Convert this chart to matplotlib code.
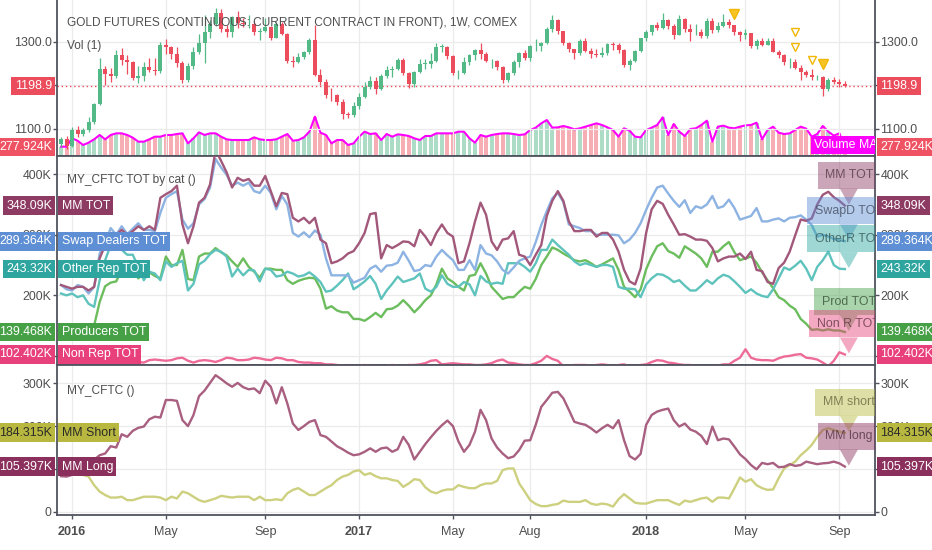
import numpy as np
import matplotlib
matplotlib.use("Agg")
import matplotlib.pyplot as plt
from matplotlib import font_manager as fm
from matplotlib.transforms import IdentityTransform
from matplotlib.patches import Rectangle, Polygon

# ---------------- data (weekly bars, first bar = week of 2015-12-21) ----------------
tick_weeks = [2, 19, 37, 54, 71, 85, 106, 124, 141]
tick_labels = ["2016", "May", "Sep", "2017", "May", "Aug", "2018", "May", "Sep"]

opens = [1066, 1076, 1060, 1098, 1089, 1097, 1116, 1157, 1239, 1227,
         1221, 1270, 1259, 1255, 1217, 1221, 1243, 1235, 1233, 1292,
         1289, 1273, 1252, 1213, 1244, 1276, 1297, 1322, 1341, 1366,
         1330, 1323, 1358, 1344, 1341, 1342, 1322, 1326, 1334, 1310,
         1341, 1318, 1257, 1254, 1266, 1276, 1304, 1224, 1208, 1178,
         1177, 1162, 1135, 1133, 1152, 1173, 1197, 1210, 1191, 1221,
         1235, 1239, 1258, 1228, 1204, 1230, 1250, 1250, 1257, 1289,
         1289, 1268, 1228, 1229, 1254, 1269, 1282, 1272, 1256, 1257,
         1242, 1212, 1228, 1255, 1274, 1264, 1291, 1291, 1297, 1330,
         1351, 1325, 1297, 1284, 1274, 1303, 1280, 1273, 1270, 1275,
         1296, 1292, 1281, 1248, 1257, 1279, 1309, 1322, 1338, 1333,
         1350, 1337, 1316, 1353, 1330, 1323, 1324, 1313, 1349, 1327,
         1336, 1347, 1338, 1323, 1315, 1320, 1291, 1303, 1294, 1302,
         1278, 1270, 1254, 1255, 1241, 1231, 1223, 1219, 1219, 1192,
         1213, 1208, 1204]
closes = [1076, 1060, 1098, 1089, 1097, 1116, 1157, 1239, 1227, 1221,
          1270, 1259, 1255, 1217, 1221, 1243, 1235, 1233, 1292, 1289,
          1273, 1252, 1213, 1244, 1276, 1297, 1322, 1341, 1366, 1330,
          1323, 1358, 1344, 1341, 1342, 1322, 1326, 1334, 1310, 1341,
          1318, 1257, 1254, 1266, 1276, 1304, 1224, 1208, 1178, 1177,
          1162, 1135, 1133, 1152, 1173, 1197, 1210, 1191, 1221, 1235,
          1239, 1258, 1228, 1204, 1230, 1250, 1250, 1257, 1289, 1289,
          1268, 1228, 1229, 1254, 1269, 1282, 1272, 1256, 1257, 1242,
          1212, 1228, 1255, 1274, 1264, 1291, 1291, 1297, 1330, 1351,
          1325, 1297, 1284, 1274, 1303, 1280, 1273, 1270, 1275, 1296,
          1292, 1281, 1248, 1257, 1279, 1309, 1322, 1338, 1333, 1350,
          1337, 1316, 1353, 1330, 1323, 1324, 1313, 1349, 1327, 1336,
          1347, 1338, 1323, 1315, 1320, 1291, 1303, 1294, 1302, 1278,
          1270, 1254, 1255, 1241, 1231, 1223, 1219, 1219, 1192, 1213,
          1208, 1204, 1198.9]
highs = [1082, 1085, 1104, 1106, 1103, 1128, 1160, 1263, 1244, 1241,
         1281, 1287, 1270, 1257, 1245, 1254, 1263, 1264, 1299, 1306,
         1290, 1288, 1256, 1251, 1289, 1318, 1362, 1350, 1377, 1375,
         1339, 1360, 1371, 1356, 1361, 1349, 1332, 1355, 1336, 1345,
         1345, 1320, 1268, 1275, 1280, 1309, 1338, 1237, 1215, 1194,
         1180, 1170, 1139, 1163, 1183, 1207, 1221, 1220, 1226, 1244,
         1245, 1264, 1263, 1231, 1233, 1261, 1262, 1274, 1297, 1296,
         1290, 1270, 1236, 1265, 1273, 1284, 1298, 1278, 1262, 1258,
         1244, 1232, 1259, 1276, 1282, 1293, 1306, 1300, 1334, 1362,
         1352, 1326, 1300, 1285, 1306, 1308, 1286, 1284, 1288, 1298,
         1299, 1298, 1283, 1261, 1281, 1310, 1327, 1340, 1345, 1366,
         1352, 1341, 1362, 1355, 1341, 1341, 1330, 1356, 1355, 1345,
         1365, 1353, 1340, 1325, 1330, 1320, 1307, 1309, 1308, 1310,
         1282, 1272, 1264, 1262, 1246, 1236, 1237, 1225, 1222, 1218,
         1219, 1215, 1210]
lows = [1058, 1055, 1058, 1082, 1084, 1094, 1112, 1155, 1201, 1209,
        1218, 1246, 1227, 1212, 1206, 1210, 1230, 1224, 1228, 1272,
        1261, 1243, 1206, 1207, 1238, 1272, 1252, 1310, 1337, 1322,
        1311, 1312, 1333, 1335, 1333, 1316, 1305, 1323, 1305, 1310,
        1316, 1251, 1242, 1252, 1261, 1273, 1222, 1200, 1171, 1164,
        1156, 1123, 1125, 1128, 1146, 1171, 1193, 1180, 1189, 1218,
        1220, 1235, 1225, 1195, 1196, 1228, 1238, 1240, 1253, 1276,
        1262, 1224, 1214, 1227, 1248, 1258, 1262, 1253, 1240, 1236,
        1205, 1208, 1224, 1243, 1259, 1256, 1279, 1280, 1295, 1324,
        1318, 1293, 1278, 1260, 1270, 1276, 1263, 1266, 1266, 1271,
        1282, 1274, 1243, 1236, 1255, 1278, 1303, 1315, 1327, 1330,
        1330, 1307, 1316, 1323, 1303, 1317, 1308, 1309, 1321, 1324,
        1334, 1333, 1316, 1303, 1306, 1286, 1285, 1290, 1292, 1276,
        1264, 1248, 1241, 1238, 1212, 1220, 1212, 1212, 1175, 1188,
        1203, 1197, 1196]
volume_k = [288, 288, 546, 473, 340, 412, 515, 649, 515, 649,
            700, 700, 649, 566, 443, 443, 515, 597, 597, 649,
            649, 679, 700, 391, 546, 731, 649, 700, 700, 597,
            515, 494, 494, 494, 494, 576, 515, 494, 494, 515,
            597, 679, 473, 494, 576, 752, 1215, 721, 649, 391,
            494, 494, 340, 391, 597, 752, 679, 700, 494, 679,
            597, 669, 649, 618, 546, 494, 618, 618, 700, 700,
            700, 700, 752, 752, 546, 412, 649, 597, 649, 679,
            700, 700, 679, 649, 669, 803, 875, 1009, 1112, 875,
            885, 927, 885, 824, 855, 906, 958, 1009, 958, 885,
            803, 597, 855, 782, 597, 576, 803, 875, 958, 1194,
            649, 988, 752, 618, 834, 855, 958, 1091, 443, 906,
            937, 875, 855, 906, 947, 958, 1030, 515, 803, 906,
            721, 679, 700, 803, 906, 844, 597, 679, 927, 752,
            628, 700, 277.924]
signal_weeks = [122, 133, 133, 136, 138]
signal_prices = [1364, 1322, 1289, 1259, 1249]
signal_filled = [True, False, False, False, True]

mm_tot = [217, 214, 211, 214, 214, 208, 214, 261, 283, 303,
          300, 308, 300, 306, 314, 308, 314, 308, 361, 367,
          372, 381, 317, 286, 314, 353, 361, 383, 440, 422,
          403, 378, 394, 389, 392, 381, 381, 397, 372, 347,
          369, 367, 328, 322, 328, 319, 328, 292, 286, 253,
          256, 261, 269, 273, 286, 303, 334, 336, 261, 283,
          278, 283, 289, 288, 281, 308, 297, 283, 303, 317,
          303, 297, 253, 256, 286, 322, 353, 333, 289, 275,
          292, 294, 306, 267, 264, 250, 267, 283, 331, 356,
          372, 356, 322, 306, 306, 308, 308, 297, 303, 303,
          292, 272, 242, 223, 218, 244, 303, 342, 356, 351,
          333, 317, 300, 301, 297, 292, 292, 290, 278, 256,
          261, 264, 264, 269, 260, 272, 242, 240, 222, 219,
          245, 254, 272, 299, 325, 323, 327, 350, 366, 371,
          362, 356, 348.09]
swap_tot = [217, 210, 208, 217, 214, 203, 214, 269, 286, 311,
            300, 314, 301, 310, 319, 308, 308, 306, 336, 361,
            367, 372, 325, 310, 319, 350, 359, 378, 425, 411,
            399, 381, 386, 381, 386, 372, 369, 381, 369, 342,
            364, 350, 303, 297, 304, 296, 307, 300, 261, 233,
            233, 233, 233, 221, 225, 229, 244, 249, 239, 249,
            250, 254, 272, 257, 240, 242, 250, 248, 264, 275,
            266, 258, 242, 242, 258, 242, 283, 269, 266, 256,
            242, 236, 246, 257, 261, 264, 288, 316, 339, 360,
            369, 354, 317, 314, 311, 306, 306, 300, 300, 300,
            300, 299, 286, 292, 303, 319, 341, 361, 378, 381,
            368, 356, 346, 357, 336, 347, 344, 350, 364, 344,
            347, 358, 344, 325, 328, 331, 344, 322, 322, 325,
            327, 322, 328, 329, 332, 325, 316, 297, 300, 297,
            293, 291, 289.364]
other_tot = [203, 200, 203, 197, 200, 186, 181, 225, 258, 283,
             283, 275, 267, 267, 247, 225, 239, 236, 225, 256,
             247, 253, 257, 208, 219, 251, 257, 268, 275, 272,
             264, 231, 244, 233, 242, 241, 223, 244, 242, 231,
             233, 239, 236, 231, 233, 238, 231, 222, 206, 208,
             216, 225, 236, 210, 216, 223, 232, 219, 194, 208,
             219, 231, 222, 225, 228, 236, 211, 206, 214, 233,
             219, 214, 214, 222, 218, 200, 232, 223, 219, 221,
             219, 253, 253, 253, 247, 239, 253, 275, 275, 292,
             283, 275, 267, 256, 250, 253, 250, 247, 250, 250,
             247, 214, 211, 211, 210, 197, 218, 228, 235, 234,
             229, 222, 225, 216, 208, 208, 216, 225, 219, 228,
             234, 231, 223, 214, 204, 210, 203, 199, 197, 210,
             228, 246, 242, 249, 257, 244, 225, 247, 258, 272,
             250, 244, 243.32]
prod_tot = [145, 143, 140, 142, 145, 148, 150, 189, 215, 221,
            223, 242, 247, 247, 228, 236, 238, 232, 228, 264,
            250, 250, 275, 227, 225, 264, 269, 269, 278, 271,
            266, 256, 247, 261, 247, 239, 229, 244, 244, 242,
            242, 225, 219, 224, 227, 229, 228, 211, 178, 182,
            175, 172, 172, 161, 161, 158, 164, 171, 164, 177,
            178, 183, 192, 183, 172, 181, 192, 200, 218, 244,
            228, 222, 214, 208, 232, 234, 253, 236, 214, 204,
            194, 197, 197, 206, 214, 211, 227, 250, 264, 279,
            275, 269, 264, 258, 256, 258, 253, 247, 251, 256,
            261, 242, 214, 206, 197, 210, 243, 264, 281, 286,
            273, 269, 262, 281, 275, 269, 261, 247, 272, 272,
            281, 288, 271, 258, 261, 264, 254, 238, 225, 212,
            197, 192, 183, 177, 161, 153, 143, 144, 142, 144,
            142, 142, 139.468]
nonrep_tot = [95, 96, 94, 95, 96, 94, 95, 97, 96, 95,
              94, 96, 95, 92, 90, 89, 93, 94, 93, 92,
              93, 96, 97, 92, 89, 92, 93, 92, 90, 93,
              97, 96, 93, 93, 94, 97, 96, 94, 93, 97,
              96, 93, 93, 90, 89, 89, 88, 88, 86, 86,
              85, 84, 84, 83, 84, 85, 84, 83, 83, 84,
              85, 84, 84, 85, 85, 86, 88, 92, 93, 86,
              87, 88, 87, 86, 86, 85, 85, 86, 88, 92,
              94, 89, 88, 86, 85, 85, 88, 92, 100, 95,
              92, 83, 84, 85, 85, 85, 84, 85, 86, 85,
              83, 85, 86, 83, 82, 85, 86, 90, 93, 92,
              89, 88, 86, 85, 85, 84, 83, 83, 83, 84,
              86, 86, 92, 97, 111, 97, 94, 93, 93, 92,
              96, 99, 100, 102, 103, 97, 96, 94, 89, 83,
              92, 106, 102.402]
mm_long = [83, 82, 86, 90, 94, 107, 121, 132, 136, 153,
           150, 181, 175, 189, 196, 199, 216, 222, 220, 261,
           261, 259, 214, 200, 226, 270, 283, 301, 319, 310,
           300, 292, 301, 291, 286, 288, 277, 306, 292, 253,
           291, 253, 206, 191, 200, 210, 214, 179, 175, 164,
           153, 146, 138, 132, 134, 140, 148, 140, 148, 150,
           140, 146, 175, 156, 122, 140, 158, 174, 189, 202,
           213, 200, 164, 140, 156, 187, 238, 214, 171, 150,
           136, 125, 129, 144, 166, 167, 203, 245, 261, 278,
           280, 265, 238, 210, 206, 203, 195, 185, 195, 203,
           195, 214, 167, 130, 122, 135, 203, 226, 234, 238,
           241, 214, 199, 206, 192, 187, 177, 158, 199, 167,
           171, 169, 152, 134, 123, 109, 99, 114, 111, 114,
           104, 105, 111, 107, 109, 117, 114, 111, 113, 114,
           117, 113, 105.397]
mm_short = [97, 94, 91, 88, 86, 82, 62, 47, 39, 33,
            33, 35, 27, 27, 31, 35, 35, 35, 33, 27,
            35, 31, 47, 43, 35, 27, 23, 27, 31, 37,
            35, 33, 35, 35, 35, 27, 35, 27, 27, 29,
            27, 43, 51, 55, 47, 39, 39, 47, 55, 62,
            74, 82, 86, 94, 97, 86, 90, 83, 78, 78,
            74, 72, 58, 66, 76, 74, 57, 47, 43, 49,
            52, 52, 62, 58, 55, 55, 62, 66, 66, 72,
            97, 101, 101, 66, 47, 27, 18, 13, 13, 16,
            18, 26, 23, 23, 23, 27, 19, 16, 19, 17,
            12, 29, 41, 31, 21, 19, 19, 23, 27, 27,
            27, 21, 16, 26, 23, 27, 31, 33, 23, 33,
            33, 31, 55, 80, 70, 76, 62, 55, 51, 52,
            78, 101, 109, 117, 132, 143, 156, 175, 191, 195,
            191, 187, 184.315]

# ---------------- fonts ----------------
_names = {f.name for f in fm.fontManager.ttflist}
if "Liberation Sans Narrow" in _names:
    FAM, S = "Liberation Sans Narrow", 1.0
else:
    FAM, S = "Liberation Sans", 0.84
plt.rcParams["font.family"] = [FAM, "DejaVu Sans"]

W, H = 932, 550
L, R = 57, 875
fig = plt.figure(figsize=(W / 100, H / 100), dpi=100)
fig.patch.set_facecolor("white")


def rect(y0, y1):
    return [L / W, 1 - y1 / H, (R - L) / W, (y1 - y0) / H]


axv = fig.add_axes(rect(0, 156))
ax1 = fig.add_axes(rect(0, 156))
ax2 = fig.add_axes(rect(156, 365))
ax3 = fig.add_axes(rect(365, 515))
ax1.patch.set_visible(False)

n = len(closes)
x = np.arange(n)
XL = (-0.725, 147.46)
SPC = "#50535e"
TXT = "#4f4f4f"
GRID = "#ebebeb"
FS = 10.6 * S
PAD = "square,pad=0.27"

# ---------------- top panel ----------------
o = np.array(opens, float)
c = np.array(closes, float)
up = c >= o
GREEN, RED = "#53b987", "#eb4d5c"
ccol = np.where(up, GREEN, RED)
body = c - o
body = np.where(np.abs(body) < 0.9, 0.9, body)
ax1.vlines(x, lows, highs, colors=ccol, lw=0.9, zorder=3)
ax1.bar(x, body, bottom=o, width=0.72, color=ccol, linewidth=0, zorder=4)
ax1.axhline(closes[-1], color=RED, lw=1, ls=(0, (1, 2)), zorder=2)
for w, p, f in zip(signal_weeks, signal_prices, signal_filled):
    ax1.plot(w, p, marker="v", ms=7 if f else 5.5,
             mfc="#f7c325" if f else "white", mec="#f2b705", mew=1, zorder=6)
ax1.set_ylim(1037.9, 1396.5)
ax1.set_yticks([1100, 1200, 1300])
# the 1200.0 label sits under the last-price tag, as in the source
ax1.set_yticklabels(["1100.0", "", "1300.0"])

vcol = np.where(up, "#acdcc6", "#f6adb3")
axv.bar(x, volume_k, width=0.72, color=vcol, linewidth=0)
axv.plot(x, volume_k, color="#ff00ff", lw=1.5)
axv.set_ylim(0, 4820)
axv.set_xlim(*XL)
axv.set_xticks([]); axv.set_yticks([])
for s in axv.spines.values():
    s.set_visible(False)

# ---------------- middle panel ----------------
mid = [("Non Rep TOT", "Non R TOT", nonrep_tot, "#ee6a98", "#e8407a", "#e8407a", "#6a3d4c"),
       ("Producers TOT", "Prod TOT", prod_tot, "#6cbd5e", "#46a046", "#43a047", "#3f5a3e"),
       ("Other Rep TOT", "OtherR TOT", other_tot, "#5ec3bc", "#2fa59f", "#2aa7a0", "#3c5f5d"),
       ("Swap Dealers TOT", "SwapD TOT", swap_tot, "#8db3e2", "#5e8fd4", "#5b8dd6", "#4a5566"),
       ("MM TOT", "MM TOT", mm_tot, "#a2587a", "#8e3b63", "#8b3a62", "#5e4050")]
for name, short, vals, lc, bc, cc, tc in mid:
    ax2.plot(x, vals, color=lc, lw=1.7, zorder=3, solid_joinstyle="round")
ax2.set_ylim(85, 430)
ax2.set_yticks([100, 200, 300, 400])
ax2.set_yticklabels(["", "200K", "300K", "400K"])

# ---------------- bottom panel ----------------
bot = [("MM Long", "MM long", mm_long, "#a85f80", "#8b2f5c", "#8b2d5c", "#5a3a4a", "white"),
       ("MM Short", "MM short", mm_short, "#cdd07f", "#b8b840", "#b5b83a", "#6f6f45", "#2a2a2a")]
for name, short, vals, lc, bc, cc, tc, lt in bot[::-1]:
    ax3.plot(x, vals, color=lc, lw=1.7, zorder=3, solid_joinstyle="round")
ax3.set_ylim(-7.7, 342.8)
ax3.set_yticks([0, 100, 200, 300])
ax3.set_yticklabels(["0", "", "200K", "300K"])

# ---------------- axes styling ----------------
for ax in (ax1, ax2, ax3):
    ax.set_xlim(*XL)
    ax.set_xticks(tick_weeks)
    ax.grid(True, color=GRID, lw=0.9)
    ax.set_axisbelow(True)
    ax.tick_params(axis="y", left=True, right=True, labelleft=True, labelright=True,
                   length=3, width=1, color=SPC, labelcolor=TXT, labelsize=FS, pad=1)
    ax.tick_params(axis="x", bottom=False, labelbottom=False, top=False)
    for sp in ("left", "right", "bottom", "top"):
        ax.spines[sp].set_color(SPC)
        ax.spines[sp].set_linewidth(1.3)
ax1.spines["top"].set_visible(False)
ax3.tick_params(axis="x", bottom=True, labelbottom=True, length=3, width=1,
                color=SPC, labelcolor=TXT, labelsize=10.8 * S, pad=5)
ax3.set_xticklabels(tick_labels)
for lbl in ax3.get_xticklabels():
    if lbl.get_text().isdigit():
        lbl.set_fontweight("bold")

ID = IdentityTransform()


def disp(ax, i, v):
    return ax.transData.transform((i, v))


def side_labels(ax, v, txt, name, color, tcolor="white"):
    yd = disp(ax, 0, v)[1]
    bb = dict(boxstyle=PAD, fc=color, ec="none")
    fig.text(52, yd, txt, transform=ID, ha="right", va="center", fontsize=FS,
             color=tcolor, bbox=bb, zorder=20)
    fig.text(880.5, yd, txt, transform=ID, ha="left", va="center", fontsize=FS,
             color=tcolor, bbox=bb, zorder=20)
    if name:
        fig.text(61.5, yd, name, transform=ID, ha="left", va="center", fontsize=FS,
                 color=tcolor, bbox=bb, zorder=20)


def callout(ax, v, text, color, tcolor, halfw):
    tx, ty = disp(ax, n - 1, v)
    cx = tx + 4
    b0, b1 = ty + 17, ty + 44
    ax.add_artist(Rectangle((cx - halfw, b0), 2 * halfw, b1 - b0, transform=ID,
                            fc=color, alpha=0.45, ec="none", zorder=8))
    ax.add_artist(Polygon([(cx - 9, b0), (cx + 9, b0), (cx, ty + 1)], closed=True,
                          transform=ID, fc=color, alpha=0.45, ec="none", zorder=8))
    ax.text(cx, (b0 + b1) / 2, text, transform=ID, ha="center", va="center",
            fontsize=FS, color=tcolor, alpha=0.85, zorder=9, clip_on=True)


# price + volume labels
side_labels(ax1, closes[-1], "1198.9", None, RED)
side_labels(axv, volume_k[-1], "277.924K", None, "#ef5262")
ax1.text(814, disp(axv, 0, volume_k[-1])[1] + 2, "Volume MA", transform=ID, ha="left",
         va="center", fontsize=FS, color="white", zorder=9, clip_on=True,
         bbox=dict(boxstyle=PAD, fc="#ff00ff", ec="none"))

halfw_mid = {"MM TOT": 31, "SwapD TOT": 42, "OtherR TOT": 42, "Prod TOT": 35, "Non R TOT": 40}
for name, short, vals, lc, bc, cc, tc in mid[::-1]:
    callout(ax2, vals[-1], short, cc, tc, halfw_mid[short])
for name, short, vals, lc, bc, cc, tc in mid:
    side_labels(ax2, vals[-1], f"{vals[-1]:g}K", name, bc)

halfw_bot = {"MM short": 34, "MM long": 31}
for name, short, vals, lc, bc, cc, tc, lt in bot[::-1]:
    callout(ax3, vals[-1], short, cc, tc, halfw_bot[short])
for name, short, vals, lc, bc, cc, tc, lt in bot:
    side_labels(ax3, vals[-1], f"{vals[-1]:g}K", name, bc, lt)

# titles
TFS = 10.2 * S
fig.text(67, H - 23, "GOLD FUTURES (CONTINUOUS: CURRENT CONTRACT IN FRONT), 1W, COMEX",
         transform=ID, ha="left", va="center", fontsize=TFS, color=TXT, zorder=15)
fig.text(67, H - 46, "Vol (1)", transform=ID, ha="left", va="center",
         fontsize=TFS, color=TXT, zorder=15)
fig.text(67, H - 180, "MY_CFTC TOT by cat ()", transform=ID, ha="left", va="center",
         fontsize=TFS, color=TXT, zorder=15)
fig.text(67, H - 391, "MY_CFTC ()", transform=ID, ha="left", va="center",
         fontsize=TFS, color=TXT, zorder=15)

fig.savefig("out.png", dpi=100)
